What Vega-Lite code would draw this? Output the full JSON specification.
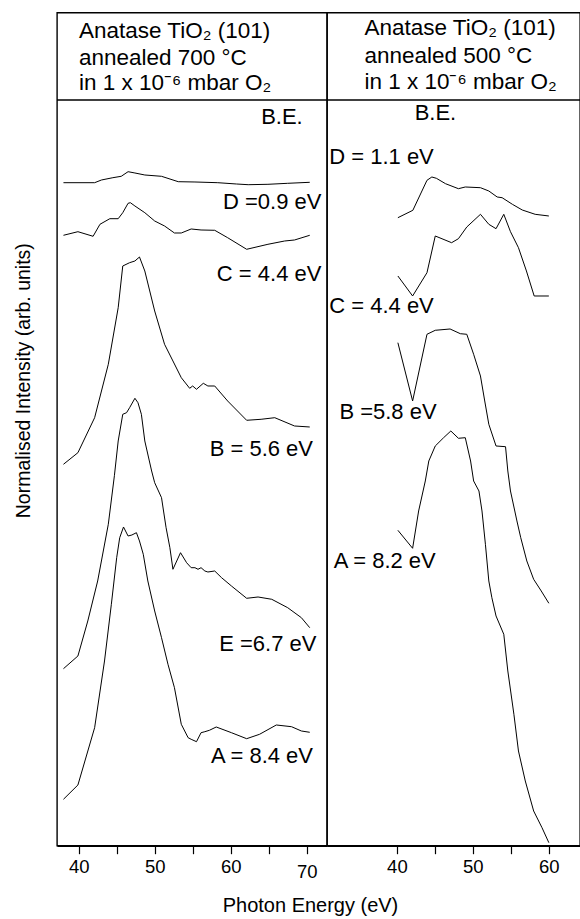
{
  "$schema": "https://vega.github.io/schema/vega-lite/v6.json",
  "padding": {"left": 12, "top": 11.7, "right": 0, "bottom": 0},
  "bounds": "flush",
  "spacing": 0,
  "config": {
    "view": {"stroke": "black", "strokeWidth": 1.4},
    "font": "Liberation Sans",
    "text": {"color": "black", "font": "Liberation Sans"}
  },
  "datasets": {
    "left_curves": [
      {"s":"D","E":38.0,"I":663.0},{"s":"D","E":42.1,"I":663.0},{"s":"D","E":43.0,"I":665.7},{"s":"D","E":44.5,"I":668.0},{"s":"D","E":45.6,"I":669.4},{"s":"D","E":46.5,"I":674.0},{"s":"D","E":47.4,"I":672.7},{"s":"D","E":48.7,"I":670.7},{"s":"D","E":50.9,"I":669.4},{"s":"D","E":53.1,"I":664.0},{"s":"D","E":55.3,"I":663.7},{"s":"D","E":58.3,"I":663.0},{"s":"D","E":60.75,"I":661.7},{"s":"D","E":62.3,"I":661.0},{"s":"D","E":64.9,"I":661.4},{"s":"D","E":67.5,"I":662.4},{"s":"D","E":70.4,"I":663.4},
      {"s":"C","E":38.0,"I":610.4},{"s":"C","E":39.9,"I":614.0},{"s":"C","E":41.9,"I":609.4},{"s":"C","E":42.8,"I":621.4},{"s":"C","E":44.1,"I":627.0},{"s":"C","E":45.2,"I":627.0},{"s":"C","E":45.8,"I":633.0},{"s":"C","E":46.5,"I":642.4},{"s":"C","E":46.8,"I":643.0},{"s":"C","E":47.4,"I":639.7},{"s":"C","E":48.7,"I":633.0},{"s":"C","E":50.0,"I":624.7},{"s":"C","E":51.3,"I":619.7},{"s":"C","E":52.6,"I":612.7},{"s":"C","E":53.5,"I":612.7},{"s":"C","E":54.8,"I":616.7},{"s":"C","E":56.1,"I":615.7},{"s":"C","E":57.9,"I":615.4},{"s":"C","E":59.6,"I":608.0},{"s":"C","E":62.1,"I":596.4},{"s":"C","E":64.9,"I":601.4},{"s":"C","E":67.1,"I":604.7},{"s":"C","E":68.4,"I":605.7},{"s":"C","E":70.4,"I":610.4},
      {"s":"B","E":38.0,"I":381.4},{"s":"B","E":39.9,"I":393.0},{"s":"B","E":42.1,"I":428.0},{"s":"B","E":43.9,"I":481.4},{"s":"B","E":45.2,"I":538.0},{"s":"B","E":45.8,"I":579.7},{"s":"B","E":46.7,"I":583.0},{"s":"B","E":47.4,"I":584.7},{"s":"B","E":48.0,"I":588.7},{"s":"B","E":48.7,"I":574.7},{"s":"B","E":50.0,"I":534.7},{"s":"B","E":51.3,"I":501.4},{"s":"B","E":52.4,"I":484.7},{"s":"B","E":53.5,"I":468.0},{"s":"B","E":54.6,"I":457.4},{"s":"B","E":55.0,"I":459.7},{"s":"B","E":55.5,"I":456.4},{"s":"B","E":56.4,"I":462.4},{"s":"B","E":57.0,"I":459.7},{"s":"B","E":57.9,"I":459.7},{"s":"B","E":59.6,"I":444.7},{"s":"B","E":62.1,"I":425.4},{"s":"B","E":64.0,"I":426.4},{"s":"B","E":65.8,"I":428.0},{"s":"B","E":68.4,"I":419.7},{"s":"B","E":70.4,"I":418.7},
      {"s":"E","E":38.0,"I":177.0},{"s":"E","E":39.9,"I":189.7},{"s":"E","E":41.2,"I":224.7},{"s":"E","E":42.5,"I":264.7},{"s":"E","E":43.9,"I":321.4},{"s":"E","E":44.7,"I":370.0},{"s":"E","E":45.2,"I":404.7},{"s":"E","E":45.8,"I":431.4},{"s":"E","E":46.3,"I":433.0},{"s":"E","E":46.7,"I":438.0},{"s":"E","E":47.4,"I":447.4},{"s":"E","E":47.8,"I":443.0},{"s":"E","E":48.25,"I":431.4},{"s":"E","E":48.7,"I":404.7},{"s":"E","E":49.3,"I":384.7},{"s":"E","E":49.6,"I":374.7},{"s":"E","E":50.0,"I":363.0},{"s":"E","E":50.9,"I":348.0},{"s":"E","E":51.5,"I":318.0},{"s":"E","E":52.0,"I":298.0},{"s":"E","E":52.4,"I":276.4},{"s":"E","E":53.4,"I":293.0},{"s":"E","E":54.2,"I":283.0},{"s":"E","E":54.8,"I":278.0},{"s":"E","E":55.3,"I":278.0},{"s":"E","E":55.7,"I":276.4},{"s":"E","E":56.1,"I":278.0},{"s":"E","E":56.6,"I":274.7},{"s":"E","E":57.0,"I":273.7},{"s":"E","E":57.9,"I":274.7},{"s":"E","E":58.8,"I":268.0},{"s":"E","E":60.1,"I":259.7},{"s":"E","E":62.1,"I":247.4},{"s":"E","E":63.6,"I":248.7},{"s":"E","E":65.4,"I":246.4},{"s":"E","E":67.5,"I":238.0},{"s":"E","E":69.3,"I":228.0},{"s":"E","E":70.4,"I":218.0},
      {"s":"A","E":38.0,"I":46.4},{"s":"A","E":39.9,"I":60.7},{"s":"A","E":42.1,"I":118.0},{"s":"A","E":43.4,"I":184.7},{"s":"A","E":44.3,"I":241.4},{"s":"A","E":45.0,"I":288.0},{"s":"A","E":45.4,"I":308.0},{"s":"A","E":45.9,"I":318.7},{"s":"A","E":46.5,"I":309.7},{"s":"A","E":47.0,"I":310.7},{"s":"A","E":47.6,"I":313.0},{"s":"A","E":48.0,"I":304.7},{"s":"A","E":48.5,"I":291.4},{"s":"A","E":49.1,"I":264.7},{"s":"A","E":50.0,"I":234.7},{"s":"A","E":50.9,"I":208.0},{"s":"A","E":51.75,"I":181.4},{"s":"A","E":52.6,"I":158.0},{"s":"A","E":53.5,"I":121.4},{"s":"A","E":54.4,"I":108.0},{"s":"A","E":54.8,"I":106.4},{"s":"A","E":55.5,"I":104.0},{"s":"A","E":56.1,"I":113.0},{"s":"A","E":56.6,"I":114.0},{"s":"A","E":57.2,"I":115.4},{"s":"A","E":58.1,"I":118.7},{"s":"A","E":60.1,"I":113.0},{"s":"A","E":62.1,"I":107.0},{"s":"A","E":63.8,"I":111.4},{"s":"A","E":66.0,"I":120.7},{"s":"A","E":68.0,"I":119.0},{"s":"A","E":69.3,"I":114.7},{"s":"A","E":70.4,"I":113.4}
    ],
    "right_curves": [
      {"s":"D","E":40.13,"I":628.0},{"s":"D","E":42.1,"I":635.4},{"s":"D","E":43.96,"I":665.4},{"s":"D","E":44.6,"I":668.7},{"s":"D","E":45.2,"I":667.4},{"s":"D","E":46.4,"I":662.0},{"s":"D","E":48.1,"I":657.0},{"s":"D","E":49.0,"I":658.7},{"s":"D","E":51.0,"I":658.0},{"s":"D","E":52.1,"I":654.7},{"s":"D","E":53.2,"I":648.7},{"s":"D","E":53.85,"I":648.0},{"s":"D","E":55.2,"I":641.4},{"s":"D","E":56.5,"I":635.7},{"s":"D","E":58.2,"I":631.4},{"s":"D","E":60.0,"I":629.7},
      {"s":"C","E":40.13,"I":569.7},{"s":"C","E":42.07,"I":549.7},{"s":"C","E":43.96,"I":573.0},{"s":"C","E":45.05,"I":609.7},{"s":"C","E":47.2,"I":603.0},{"s":"C","E":48.1,"I":607.0},{"s":"C","E":49.2,"I":618.7},{"s":"C","E":51.0,"I":631.4},{"s":"C","E":52.1,"I":621.4},{"s":"C","E":53.05,"I":617.0},{"s":"C","E":54.07,"I":631.4},{"s":"C","E":54.95,"I":614.0},{"s":"C","E":56.0,"I":598.0},{"s":"C","E":57.05,"I":574.7},{"s":"C","E":58.07,"I":549.7},{"s":"C","E":60.0,"I":549.7},
      {"s":"B","E":40.13,"I":503.0},{"s":"B","E":42.07,"I":444.7},{"s":"B","E":43.96,"I":511.4},{"s":"B","E":45.05,"I":515.4},{"s":"B","E":47.0,"I":516.7},{"s":"B","E":48.35,"I":512.0},{"s":"B","E":49.2,"I":511.4},{"s":"B","E":50.1,"I":491.4},{"s":"B","E":51.0,"I":469.7},{"s":"B","E":51.56,"I":444.7},{"s":"B","E":52.1,"I":421.4},{"s":"B","E":53.05,"I":399.7},{"s":"B","E":54.3,"I":399.0},{"s":"B","E":54.6,"I":374.7},{"s":"B","E":54.95,"I":354.7},{"s":"B","E":55.8,"I":324.7},{"s":"B","E":56.3,"I":308.0},{"s":"B","E":57.1,"I":284.7},{"s":"B","E":58.0,"I":266.4},{"s":"B","E":59.0,"I":254.7},{"s":"B","E":60.0,"I":242.4},
      {"s":"A","E":40.13,"I":315.4},{"s":"A","E":42.07,"I":297.4},{"s":"A","E":42.86,"I":334.7},{"s":"A","E":43.74,"I":364.7},{"s":"A","E":44.2,"I":384.7},{"s":"A","E":45.05,"I":399.7},{"s":"A","E":46.15,"I":408.0},{"s":"A","E":47.1,"I":414.7},{"s":"A","E":48.1,"I":407.4},{"s":"A","E":49.0,"I":408.0},{"s":"A","E":49.7,"I":384.7},{"s":"A","E":50.1,"I":364.7},{"s":"A","E":50.8,"I":354.7},{"s":"A","E":51.2,"I":334.7},{"s":"A","E":51.65,"I":301.4},{"s":"A","E":52.1,"I":264.7},{"s":"A","E":52.5,"I":248.0},{"s":"A","E":53.05,"I":229.7},{"s":"A","E":54.07,"I":211.4},{"s":"A","E":54.6,"I":174.7},{"s":"A","E":55.4,"I":131.4},{"s":"A","E":56.0,"I":94.7},{"s":"A","E":56.9,"I":64.7},{"s":"A","E":58.0,"I":34.7},{"s":"A","E":59.1,"I":18.0},{"s":"A","E":60.0,"I":3.0}
    ],
    "left_header": [
      {"E":40.04,"I":808.0,"t":"Anatase TiO₂ (101)"},
      {"E":40.04,"I":780.4,"t":"annealed 700 °C"},
      {"E":40.04,"I":755.4,"t":"in 1 x 10⁻⁶ mbar  O₂"}
    ],
    "left_labels": [
      {"E":69.47,"I":721.4,"t":"B.E."},
      {"E":71.93,"I":636.4,"t":"D =0.9 eV"},
      {"E":71.93,"I":564.7,"t":"C = 4.4 eV"},
      {"E":70.83,"I":389.7,"t":"B = 5.6 eV"},
      {"E":71.27,"I":194.7,"t":"E =6.7 eV"},
      {"E":70.83,"I":83.0,"t":"A = 8.4 eV"}
    ],
    "right_header": [
      {"E":35.73,"I":810.2,"t":"Anatase TiO₂ (101)"},
      {"E":35.73,"I":782.7,"t":"annealed 500 °C"},
      {"E":35.73,"I":756.7,"t":"in 1 x 10⁻⁶ mbar  O₂"}
    ],
    "right_labels": [
      {"E":42.34,"I":725.4,"t":"B.E."},
      {"E":31.1,"I":681.4,"t":"D = 1.1 eV"},
      {"E":31.1,"I":532.4,"t":"C = 4.4 eV"},
      {"E":32.43,"I":426.4,"t":"B =5.8 eV"},
      {"E":31.68,"I":277.4,"t":"A = 8.2 eV"}
    ],
    "divider": [{"I":745.7}]
  },
  "hconcat": [
    {
      "width": 270,
      "height": 833,
      "layer": [
        {
          "data": {"name": "left_curves"},
          "mark": {"type": "line", "color": "black", "strokeWidth": 1},
          "encoding": {
            "x": {
              "field": "E", "type": "quantitative",
              "scale": {"domain": [37.15, 72.67], "nice": false, "zero": false},
              "axis": {
                "values": [40, 45, 50, 55, 60, 65, 70],
                "labelExpr": "datum.value % 10 === 0 ? datum.label : ''",
                "grid": false,
                "domainColor": "black", "domainWidth": 1.5,
                "tickColor": "black", "tickWidth": 1.2, "tickSize": 8,
                "labelFontSize": 18.5, "labelColor": "black", "labelFont": "Liberation Sans",
                "labelBaseline": "alphabetic",
                "labelPadding": {"condition": {"test": "datum.value === 70", "value": 24}, "value": 19},
                "labelFlush": false, "labelOverlap": false,
                "title": "Photon Energy (eV)",
                "titleFontSize": 20, "titleFontWeight": "normal", "titleFont": "Liberation Sans", "titleColor": "black",
                "titleX": 253, "titleY": 66, "titleBaseline": "alphabetic", "titleAlign": "center"
              }
            },
            "y": {
              "field": "I", "type": "quantitative",
              "scale": {"domain": [0, 833], "nice": false, "zero": false},
              "axis": {
                "title": "Normalised Intensity (arb. units)",
                "labels": false, "ticks": false, "domain": false, "grid": false,
                "titleFontSize": 19.5, "titleFontWeight": "normal", "titleFont": "Liberation Sans", "titleColor": "black",
                "titleX": -28, "titleY": 367.5, "titleBaseline": "alphabetic", "titleAngle": -90, "titleAlign": "center"
              }
            },
            "detail": {"field": "s"}
          }
        },
        {
          "data": {"name": "divider"},
          "mark": {"type": "rule", "color": "black", "strokeWidth": 1.4},
          "encoding": {"y": {"field": "I", "type": "quantitative"}}
        },
        {
          "data": {"name": "left_header"},
          "mark": {"type": "text", "align": "left", "baseline": "alphabetic", "fontSize": 22.5},
          "encoding": {
            "x": {"field": "E", "type": "quantitative"},
            "y": {"field": "I", "type": "quantitative"},
            "text": {"field": "t"}
          }
        },
        {
          "data": {"name": "left_labels"},
          "mark": {"type": "text", "align": "right", "baseline": "alphabetic", "fontSize": 22},
          "encoding": {
            "x": {"field": "E", "type": "quantitative"},
            "y": {"field": "I", "type": "quantitative"},
            "text": {"field": "t"}
          }
        }
      ]
    },
    {
      "width": 253,
      "height": 833,
      "layer": [
        {
          "data": {"name": "right_curves"},
          "mark": {"type": "line", "color": "black", "strokeWidth": 1},
          "encoding": {
            "x": {
              "field": "E", "type": "quantitative",
              "scale": {"domain": [30.8, 64.1], "nice": false, "zero": false},
              "axis": {
                "values": [40, 45, 50, 55, 60],
                "labelExpr": "datum.value % 10 === 0 ? datum.label : ''",
                "grid": false,
                "domainColor": "black", "domainWidth": 1.5,
                "tickColor": "black", "tickWidth": 1.2, "tickSize": 8,
                "labelFontSize": 18.5, "labelColor": "black", "labelFont": "Liberation Sans",
                "labelBaseline": "alphabetic", "labelPadding": 19,
                "labelFlush": false, "labelOverlap": false,
                "title": null
              }
            },
            "y": {
              "field": "I", "type": "quantitative",
              "scale": {"domain": [0, 833], "nice": false, "zero": false},
              "axis": null
            },
            "detail": {"field": "s"}
          }
        },
        {
          "data": {"name": "divider"},
          "mark": {"type": "rule", "color": "black", "strokeWidth": 1.4},
          "encoding": {"y": {"field": "I", "type": "quantitative"}}
        },
        {
          "data": {"name": "right_header"},
          "mark": {"type": "text", "align": "left", "baseline": "alphabetic", "fontSize": 22.5},
          "encoding": {
            "x": {"field": "E", "type": "quantitative"},
            "y": {"field": "I", "type": "quantitative"},
            "text": {"field": "t"}
          }
        },
        {
          "data": {"name": "right_labels"},
          "mark": {"type": "text", "align": "left", "baseline": "alphabetic", "fontSize": 22},
          "encoding": {
            "x": {"field": "E", "type": "quantitative"},
            "y": {"field": "I", "type": "quantitative"},
            "text": {"field": "t"}
          }
        }
      ]
    }
  ]
}
